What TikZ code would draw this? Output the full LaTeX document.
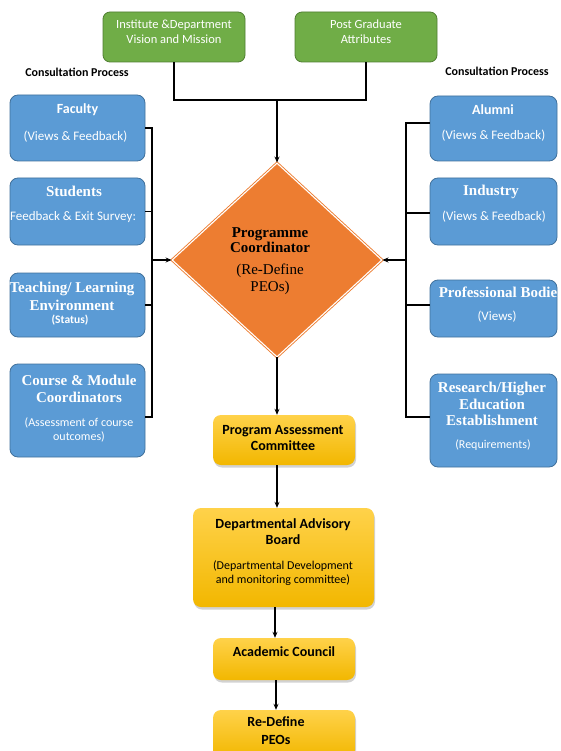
\documentclass[tikz,border=0pt]{standalone}
\usepackage{fontspec}
\setmainfont{Carlito}
\newfontfamily\serifb{Liberation Serif}
\usetikzlibrary{shapes.geometric,arrows.meta,shadows}
\definecolor{grn}{HTML}{70AD47}
\definecolor{grnd}{HTML}{507E32}
\definecolor{blu}{HTML}{5B9BD5}
\definecolor{blud}{HTML}{41719C}
\definecolor{org}{HTML}{ED7D31}
\definecolor{ylwt}{HTML}{FFD24A}
\definecolor{ylwb}{HTML}{F2B700}
\tikzset{
  gbox/.style={draw=grnd, fill=grn, rounded corners=7pt, line width=0.8pt},
  bbox/.style={draw=blud, fill=blu, rounded corners=8pt, line width=0.8pt},
  ybox/.style={rounded corners=8pt, top color=ylwt, bottom color=ylwb, draw=none,
     drop shadow={shadow xshift=1pt, shadow yshift=-2.5pt, opacity=0.35}},
  wt/.style={text=white, align=center, inner sep=0pt},
  bt/.style={text=black, align=center, inner sep=0pt},
  conn/.style={line width=1.1pt, black},
  arr/.style={conn, -{Stealth[length=6pt,width=5pt]}},
}
\newcommand{\fs}[2]{\fontsize{#1}{#2}\selectfont}
\begin{document}
\begin{tikzpicture}[x=1pt,y=-1pt]
\useasboundingbox (0,0) rectangle (560,751);
\fill[white] (0,0) rectangle (560,751);

% green boxes
\node[gbox, minimum width=142pt, minimum height=50pt] (g1) at (174,37) {};
\node[wt, font=\fs{12.5}{15}] at (174,31.5) {Institute \&Department\\Vision and Mission};
\node[gbox, minimum width=142pt, minimum height=50pt] (g2) at (366,37) {};
\node[wt, font=\fs{12.5}{15}] at (366,31.5) {Post Graduate\\Attributes};

\node[bt, font=\fs{12}{14}\bfseries] (cpl) at (77,72) {Consultation Process};
\node[bt, font=\fs{12}{14}\bfseries] (cpr) at (497,71) {Consultation Process};

% diamond
\node[diamond, minimum width=210pt, minimum height=194pt, inner sep=0pt,
      fill=org, draw=org, double=white, line width=0.9pt, double distance=1.1pt] (pc) at (277,260) {};
\node[bt, font=\serifb\bfseries\fs{15}{15.5}] at (270,240) {Programme\\Coordinator};
\node[bt, font=\serifb\fs{15}{17}] at (270,279) {(Re-Define\\PEOs)};

% top connectors
\coordinate (tj) at (277,100);
\draw[conn] (g1.south) |- (tj);
\draw[conn] (g2.south) |- (tj);
\draw[arr] (tj) -- (pc.north);

% left blue boxes
\node[bbox, minimum width=135pt, minimum height=66pt] (fac) at (77.5,128) {};
\node[wt, font=\bfseries\fs{14}{16}] at (77.5,110) {Faculty};
\node[wt, font=\fs{13}{15}] at (75.5,137) {(Views \& Feedback)};

\node[bbox, minimum width=135pt, minimum height=67pt] (stu) at (77.5,211.5) {};
\node[wt, font=\serifb\bfseries\fs{15}{17}] at (74,191) {Students};
\node[wt, font=\fs{13}{15}] at (73,217) {Feedback \& Exit Survey:};

\node[bbox, minimum width=135pt, minimum height=64pt] (tle) at (77.5,305) {};
\node[wt, font=\serifb\bfseries\fs{15}{18}] at (72,296) {Teaching/ Learning\\Environment};
\node[wt, font=\bfseries\fs{11.5}{13}] at (70,320) {(Status)};

\node[bbox, minimum width=135pt, minimum height=93pt] (cmc) at (77.5,410.5) {};
\node[wt, font=\serifb\bfseries\fs{15}{17}] at (79,388.5) {Course \& Module\\Coordinators};
\node[wt, font=\fs{12}{14.5}] at (79,430) {(Assessment of course\\outcomes)};

% right blue boxes
\node[bbox, minimum width=127pt, minimum height=65pt] (alu) at (493.5,128.5) {};
\node[wt, font=\bfseries\fs{14}{16}] at (493,110) {Alumni};
\node[wt, font=\fs{13}{15}] at (493.5,136) {(Views \& Feedback)};

\node[bbox, minimum width=127pt, minimum height=67pt] (ind) at (493.5,211.5) {};
\node[wt, font=\serifb\bfseries\fs{15}{17}] at (491,192) {Industry};
\node[wt, font=\fs{13}{15}] at (494,217) {(Views \& Feedback)};

\node[bbox, minimum width=127pt, minimum height=57pt] (prb) at (493.5,308.5) {};
\node[wt, font=\serifb\bfseries\fs{15}{17}] at (498,292) {Professional Bodie};
\node[wt, font=\fs{13}{15}] at (497,317) {(Views)};

\node[bbox, minimum width=127pt, minimum height=93pt] (rhe) at (493.5,420.5) {};
\node[wt, font=\serifb\bfseries\fs{15}{16.5}] at (492,404) {Research/Higher\\Education\\Establishment};
\node[wt, font=\fs{12}{14}] at (493,445) {(Requirements)};

% left bus
\coordinate (lb) at (152,260);
\draw[conn] (fac.east) -- (152,128) -- (152,417) -- (cmc.east |- 0,417);
\draw[conn] (stu.east) -- (152,211.5);
\draw[conn] (tle.east) -- (152,305);
\draw[arr] (lb) -- (pc.west);

% right bus
\coordinate (rb) at (406,260);
\draw[conn] (alu.west |- 0,123) -- (406,123) -- (406,417) -- (rhe.west |- 0,417);
\draw[conn] (ind.west |- 0,213) -- (406,213);
\draw[conn] (prb.west |- 0,305) -- (406,305);
\draw[arr] (rb) -- (pc.east);

% yellow boxes
\node[ybox, minimum width=142pt, minimum height=50pt] (pac) at (284,440) {};
\node[bt, font=\bfseries\fs{14}{16}] at (283,438) {Program Assessment\\Committee};

\node[ybox, minimum width=181pt, minimum height=99pt] (dab) at (283.5,557.5) {};
\node[bt, font=\bfseries\fs{14}{16}] at (283,532) {Departmental Advisory\\Board};
\node[bt, font=\fs{12}{14.5}] at (283,573) {(Departmental Development\\and monitoring committee)};

\node[ybox, minimum width=142pt, minimum height=42pt] (ac) at (284,659) {};
\node[bt, font=\bfseries\fs{14}{16}] at (284,652) {Academic Council};

\node[ybox, minimum width=142pt, minimum height=48pt] (rdp) at (284,734) {};
\node[bt, font=\bfseries\fs{14}{18}] at (276,731) {Re-Define\\PEOs};

\draw[arr] (pc.south) -- (pac.north -| pc.south);
\draw[arr] (pac.south -| 277,0) -- (dab.north -| 277,0);
\draw[arr] (dab.south -| 275,0) -- (ac.north -| 275,0);
\draw[arr] (ac.south -| 276,0) -- (rdp.north -| 276,0);
\end{tikzpicture}
\end{document}
